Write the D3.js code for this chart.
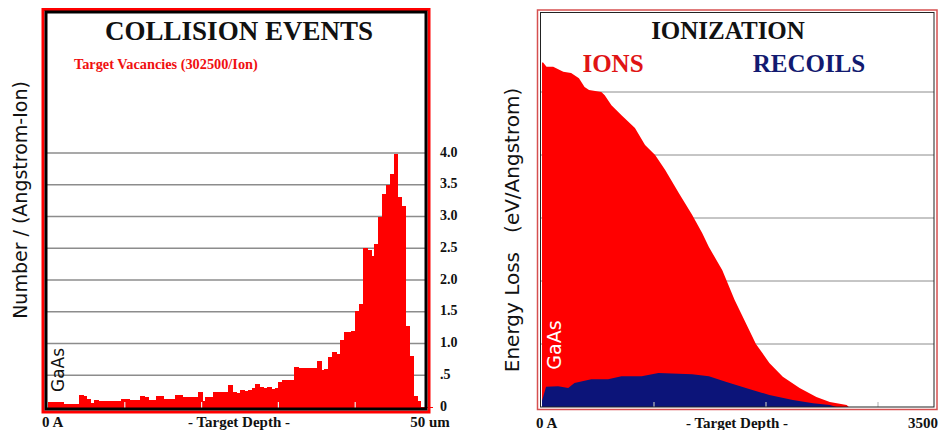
<!DOCTYPE html>
<html>
<head>
<meta charset="utf-8">
<script src="https://cdn.jsdelivr.net/npm/d3@7"></script>
<style>
  body { margin: 0; background: #fff; }
  text { font-family: "Liberation Serif", serif; }
  .sans { font-family: "DejaVu Sans", sans-serif; }
</style>
</head>
<body>
<script>
// left panel: vacancies per 0.5 um bin (0..50 um)
var vacancies = [
  0.08, 0.08, 0.08, 0.08, 0.05, 0.05, 0.05, 0.05, 0.19, 0.17,
  0.13, 0.07, 0.11, 0.09, 0.09, 0.09, 0.10, 0.10, 0.10, 0.13,
  0.12, 0.11, 0.11, 0.11, 0.17, 0.15, 0.11, 0.11, 0.18, 0.18,
  0.13, 0.13, 0.13, 0.19, 0.19, 0.16, 0.16, 0.16, 0.16, 0.24,
  0.10, 0.15, 0.15, 0.23, 0.23, 0.23, 0.23, 0.35, 0.23, 0.22,
  0.26, 0.25, 0.27, 0.30, 0.37, 0.31, 0.30, 0.31, 0.29, 0.30,
  0.40, 0.42, 0.42, 0.43, 0.63, 0.62, 0.62, 0.61, 0.62, 0.62,
  0.72, 0.58, 0.60, 0.79, 0.86, 0.83, 1.05, 1.18, 1.18, 1.20,
  1.51, 1.62, 2.50, 2.47, 2.38, 2.57, 2.99, 3.35, 3.50, 3.67,
  3.98, 3.30, 3.17, 1.28, 0.80, 0.17, 0.09, 0, 0, 0
];
var binWidth = 0.5;
var leftTicks = [0, 0.5, 1.0, 1.5, 2.0, 2.5, 3.0, 3.5, 4.0];
var leftTickLabels = ['0', '.5', '1.0', '1.5', '2.0', '2.5', '3.0', '3.5', '4.0'];
var leftDepthTicks = [10, 20, 30, 40];

// right panel: energy loss (arbitrary units), depth in Angstrom
var ionDepth = [0, 10, 40, 100, 190, 260, 330, 380, 420, 530, 560, 620, 710, 830, 920,
  1010, 1100, 1220, 1340, 1430, 1490, 1610, 1720, 1910, 2030, 2150, 2300, 2450, 2570, 2720, 2740];
var ionLoss = [5.47, 5.47, 5.40, 5.40, 5.32, 5.30, 5.22, 5.08, 5.03, 5.00, 4.95, 4.79, 4.63, 4.43, 4.16,
  4.00, 3.76, 3.40, 3.05, 2.76, 2.54, 2.17, 1.70, 1.00, 0.70, 0.48, 0.30, 0.16, 0.08, 0.03, 0];
var recoilDepth = [0, 10, 36, 144, 234, 290, 440, 590, 710, 890, 1040, 1340, 1490, 1640, 1820,
  2030, 2240, 2420, 2570, 2630];
var recoilLoss = [0.10, 0.16, 0.32, 0.33, 0.30, 0.38, 0.44, 0.44, 0.49, 0.49, 0.54, 0.52, 0.49, 0.40, 0.30,
  0.19, 0.11, 0.06, 0.03, 0];
var rightGrid = [1, 2, 3, 4, 5];
var rightDepthTicks = [1000, 2000, 3000];

var svg = d3.select('body').append('svg')
  .attr('width', 944)
  .attr('height', 430);

// ---------- left: collision events ----------
var xL = d3.scaleLinear().domain([0, 50]).range([48, 432]);
var yL = d3.scaleLinear().domain([0, 4]).range([407, 153]);

svg.append('rect')
  .attr('x', 46).attr('y', 12).attr('width', 380).attr('height', 397)
  .attr('fill', '#fff');

svg.append('g').selectAll('line')
  .data(leftTicks.slice(1))
  .enter().append('line')
  .attr('x1', 47).attr('x2', 425)
  .attr('y1', function(d) { return yL(d); })
  .attr('y2', function(d) { return yL(d); })
  .attr('stroke', '#8c8c8c').attr('stroke-width', 1.5);

svg.append('g')
  .attr('shape-rendering', 'crispEdges')
  .selectAll('rect')
  .data(vacancies)
  .enter().append('rect')
  .attr('x', function(d, i) { return xL(i * binWidth); })
  .attr('width', xL(binWidth) - xL(0) + 1)
  .attr('y', function(d) { return yL(d); })
  .attr('height', function(d) { return yL(0) - yL(d) + 1; })
  .attr('fill', '#ff0000');

svg.append('g').selectAll('line')
  .data(leftDepthTicks)
  .enter().append('line')
  .attr('x1', function(d) { return xL(d); })
  .attr('x2', function(d) { return xL(d); })
  .attr('y1', 402).attr('y2', 408)
  .attr('stroke', '#eee').attr('stroke-width', 1.2);

svg.append('rect')
  .attr('x', 43).attr('y', 9.5).attr('width', 386).attr('height', 402.5)
  .attr('fill', 'none').attr('stroke', '#ff0000').attr('stroke-width', 3);
svg.append('rect')
  .attr('x', 46).attr('y', 12).attr('width', 380).attr('height', 397)
  .attr('fill', 'none').attr('stroke', '#000').attr('stroke-width', 3);

svg.append('text')
  .attr('x', 239).attr('y', 40)
  .attr('text-anchor', 'middle')
  .attr('font-size', 27).attr('font-weight', 'bold')
  .attr('fill', '#111')
  .text('COLLISION EVENTS');

svg.append('text')
  .attr('x', 74).attr('y', 69)
  .attr('font-size', 14.3).attr('font-weight', 'bold')
  .attr('fill', '#f01010')
  .text('Target Vacancies (302500/Ion)');

svg.append('g').selectAll('text')
  .data(leftTicks)
  .enter().append('text')
  .attr('x', 440)
  .attr('y', function(d) { return yL(d) + 3.5; })
  .attr('font-size', 14).attr('font-weight', 'bold')
  .attr('fill', '#111')
  .text(function(d, i) { return leftTickLabels[i]; });

svg.append('text')
  .attr('class', 'sans')
  .attr('transform', 'translate(27,200) rotate(-90)')
  .attr('text-anchor', 'middle')
  .attr('font-size', 19)
  .attr('fill', '#111')
  .text('Number / (Angstrom-Ion)');

svg.append('text')
  .attr('class', 'sans')
  .attr('transform', 'translate(64,370) rotate(-90)')
  .attr('text-anchor', 'middle')
  .attr('font-size', 17)
  .attr('fill', '#111')
  .text('GaAs');

svg.append('text').attr('x', 42).attr('y', 427)
  .attr('font-size', 15).attr('font-weight', 'bold').attr('fill', '#111')
  .text('0 A');
svg.append('text').attr('x', 239).attr('y', 427)
  .attr('text-anchor', 'middle')
  .attr('font-size', 15).attr('font-weight', 'bold').attr('fill', '#111')
  .text('- Target Depth -');
svg.append('text').attr('x', 430).attr('y', 427)
  .attr('text-anchor', 'middle')
  .attr('font-size', 15).attr('font-weight', 'bold').attr('fill', '#111')
  .text('50 um');

// ---------- right: ionization ----------
var xR = d3.scaleLinear().domain([0, 3500]).range([542, 934]);
var yR = d3.scaleLinear().domain([0, 6]).range([407, 29]);

svg.append('g').selectAll('line')
  .data(rightGrid)
  .enter().append('line')
  .attr('x1', 541).attr('x2', 934)
  .attr('y1', function(d) { return yR(d); })
  .attr('y2', function(d) { return yR(d); })
  .attr('stroke', '#8c8c8c').attr('stroke-width', 1);

var ionArea = d3.area()
  .x(function(d, i) { return xR(ionDepth[i]); })
  .y0(yR(0))
  .y1(function(d) { return yR(d); });

svg.append('path')
  .datum(ionLoss)
  .attr('d', ionArea)
  .attr('fill', '#ff0000');

var recoilArea = d3.area()
  .x(function(d, i) { return xR(recoilDepth[i]); })
  .y0(yR(0))
  .y1(function(d) { return yR(d); });

svg.append('path')
  .datum(recoilLoss)
  .attr('d', recoilArea)
  .attr('fill', '#0c1479');

svg.append('g').selectAll('line')
  .data(rightDepthTicks)
  .enter().append('line')
  .attr('x1', function(d) { return xR(d); })
  .attr('x2', function(d) { return xR(d); })
  .attr('y1', 402).attr('y2', 407)
  .attr('stroke', '#bbb').attr('stroke-width', 1.2);

svg.append('rect')
  .attr('x', 537.5).attr('y', 10).attr('width', 399.5).attr('height', 399.5)
  .attr('fill', 'none').attr('stroke', '#d65050').attr('stroke-width', 1.5);
svg.append('rect')
  .attr('x', 540.5).attr('y', 12.5).attr('width', 393.5).attr('height', 394.5)
  .attr('fill', 'none').attr('stroke', '#222').attr('stroke-width', 1);

svg.append('text')
  .attr('x', 728).attr('y', 39)
  .attr('text-anchor', 'middle')
  .attr('font-size', 25).attr('font-weight', 'bold')
  .attr('fill', '#111')
  .text('IONIZATION');
svg.append('text')
  .attr('x', 613).attr('y', 72)
  .attr('text-anchor', 'middle')
  .attr('font-size', 25).attr('font-weight', 'bold')
  .attr('fill', '#e01414')
  .text('IONS');
svg.append('text')
  .attr('x', 809).attr('y', 72)
  .attr('text-anchor', 'middle')
  .attr('font-size', 25).attr('font-weight', 'bold')
  .attr('fill', '#121a70')
  .text('RECOILS');

svg.append('text')
  .attr('class', 'sans')
  .attr('transform', 'translate(519,230) rotate(-90)')
  .attr('text-anchor', 'middle')
  .attr('font-size', 20)
  .attr('fill', '#111')
  .attr('xml:space', 'preserve')
  .style('white-space', 'pre')
  .text('Energy Loss   (eV/Angstrom)');

svg.append('text')
  .attr('class', 'sans')
  .attr('transform', 'translate(561,345) rotate(-90)')
  .attr('text-anchor', 'middle')
  .attr('font-size', 19)
  .attr('fill', '#fff')
  .text('GaAs');

svg.append('text').attr('x', 536).attr('y', 428)
  .attr('font-size', 15).attr('font-weight', 'bold').attr('fill', '#111')
  .text('0 A');
svg.append('text').attr('x', 737).attr('y', 428)
  .attr('text-anchor', 'middle')
  .attr('font-size', 15).attr('font-weight', 'bold').attr('fill', '#111')
  .text('- Target Depth -');
svg.append('text').attr('x', 938).attr('y', 428)
  .attr('text-anchor', 'end')
  .attr('font-size', 15).attr('font-weight', 'bold').attr('fill', '#111')
  .text('3500');
</script>
</body>
</html>
